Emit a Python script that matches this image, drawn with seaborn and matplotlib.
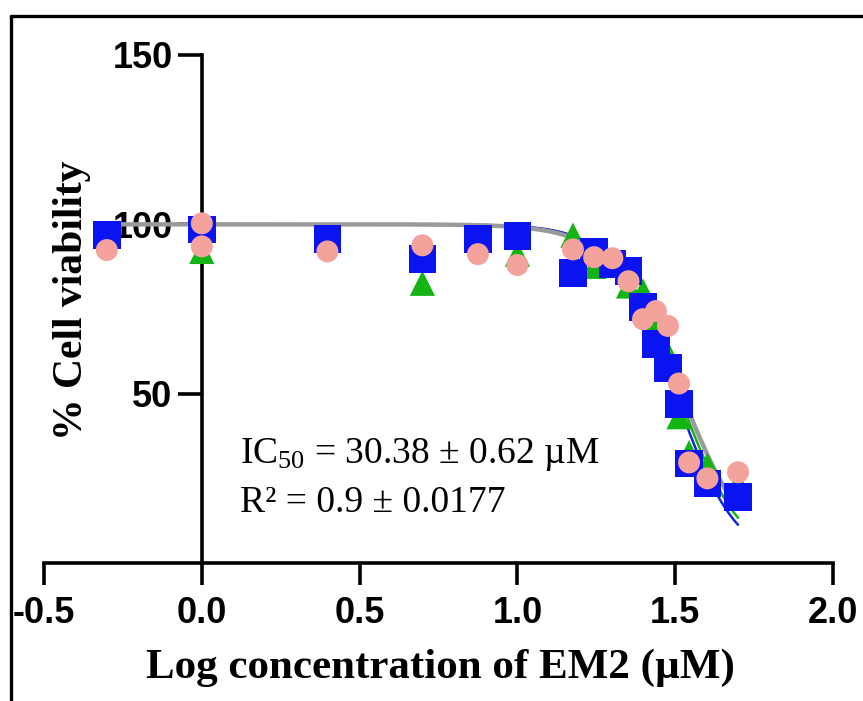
import numpy as np
import pandas as pd
import seaborn as sns
import matplotlib.pyplot as plt
from matplotlib.lines import Line2D

# log10 concentration of EM2 (uM)
log_conc = [-0.301, 0.0, 0.398, 0.699, 0.875, 1.0, 1.176, 1.243, 1.301,
            1.352, 1.398, 1.439, 1.477, 1.512, 1.544, 1.602, 1.699]

# % viability per replicate
rep_blue = [96.8, 98.5, 95.6, 89.7, 95.6, 96.5, 85.6, 92.0, 88.2,
            86.2, 75.6, 64.7, 57.6, 47.0, 29.4, 23.5, 19.4]
rep_green = [97.0, 92.0, 95.5, 82.6, 95.5, 91.2, 96.8, 87.6, 88.5,
             81.8, 80.3, 70.9, 61.8, 43.2, 32.6, 28.8, 23.5]
rep_pink = [92.4, 93.5, 92.0, 93.8, 91.2, 88.0, 92.6, 90.3, 90.0,
            83.2, 72.0, 74.4, 70.0, 53.0, 29.7, 25.0, 26.8]
# extra control point of the pink replicate at log c = 0
pink_extra_x = [0.0]
pink_extra_y = [100.3]

# 4PL fit parameters per replicate: top, bottom, logIC50, hill slope
fit_names = ["green", "blue", "pink"]
fit_top = [100.0, 100.0, 100.0]
fit_bottom = [0.0, 0.0, 0.0]
fit_logic50 = [1.51, 1.50, 1.52]
fit_hill = [4.3, 4.5, 4.0]

colors = {"blue": "#0A14F0", "green": "#14B414", "pink": "#F4A29C"}
curve_colors = {"pink": "#9A9A9A", "green": "#14B414", "blue": "#1428E0"}

pts = pd.concat([
    pd.DataFrame({"logc": log_conc, "viab": rep_green, "rep": "green"}),
    pd.DataFrame({"logc": log_conc, "viab": rep_blue, "rep": "blue"}),
    pd.DataFrame({"logc": log_conc + pink_extra_x,
                  "viab": rep_pink + pink_extra_y, "rep": "pink"}),
], ignore_index=True)

xs = np.linspace(min(log_conc), max(log_conc), 300)
curves = pd.concat([
    pd.DataFrame({"logc": xs,
                  "viab": b + (t - b) / (1 + 10 ** ((xs - l) * h)),
                  "rep": n})
    for t, b, l, h, n in zip(fit_top, fit_bottom, fit_logic50, fit_hill, fit_names)
], ignore_index=True)

sns.set_style("white")
plt.rcParams["font.family"] = ["Liberation Sans", "DejaVu Sans"]
plt.rcParams["mathtext.fontset"] = "custom"
plt.rcParams["mathtext.rm"] = "Liberation Serif"
plt.rcParams["mathtext.it"] = "Liberation Serif:italic"
plt.rcParams["text.color"] = "black"

fig = plt.figure(figsize=(8.63, 7.01), dpi=100)
ax = fig.add_axes([44 / 863, 1 - 563 / 701, (833 - 44) / 863, (563 - 55) / 701])

for name in fit_names:
    sub = curves[curves["rep"] == name]
    sns.lineplot(data=sub, x="logc", y="viab", ax=ax, color=curve_colors[name],
                 lw=3.2 if name == "pink" else 1.8, zorder=3, legend=False)

markers = {"green": "^", "blue": "s", "pink": "o"}
sizes = {"green": 330, "blue": 400, "pink": 250}
for name in ["green", "blue", "pink"]:
    sub = pts[pts["rep"] == name]
    sns.scatterplot(data=sub, x="logc", y="viab", ax=ax, marker=markers[name],
                    s=sizes[name], color=colors[name], edgecolor="none",
                    zorder=4, legend=False)

ax.set_xlim(-0.5, 2.0)
ax.set_ylim(0, 150)
ax.set_xticks([-0.5, 0.0, 0.5, 1.0, 1.5, 2.0])
ax.set_yticks([50, 100, 150])
ax.set_xticklabels(["-0.5", "0.0", "0.5", "1.0", "1.5", "2.0"])
ax.spines["left"].set_position(("data", 0))
ax.spines["bottom"].set_position(("data", 0))
ax.spines["right"].set_visible(False)
ax.spines["top"].set_visible(False)
for sp in ("left", "bottom"):
    ax.spines[sp].set_linewidth(2.6)
    ax.spines[sp].set_color("black")
ax.tick_params(axis="both", direction="out", length=16, width=2.6,
               labelsize=26, colors="black", labelcolor="black", pad=8,
               bottom=True, left=True)
ax.tick_params(axis="y", length=17, pad=4)
for lab in ax.get_xticklabels() + ax.get_yticklabels():
    lab.set_fontweight("bold")
ax.set_xlabel("")
ax.set_ylabel("")

fig.text(440 / 863, 1 - 668 / 701, "Log concentration of EM2 (\u00b5M)",
         family="Liberation Serif", weight="bold", fontsize=31, color="black",
         ha="center", va="center")
fig.text(72 / 863, 1 - 300 / 701, "% Cell viability",
         family="Liberation Serif", weight="bold", fontsize=30, color="black",
         rotation=90, ha="center", va="center")

ax.text(0.12, 29.5, "IC$_{50}$ = 30.38 $\\pm$ 0.62 \u00b5M",
        family="Liberation Serif", fontsize=27, color="black",
        ha="left", va="baseline")
ax.text(0.12, 15.0, "R\u00b2 = 0.9 \u00b1 0.0177",
        family="Liberation Serif", fontsize=27, color="black",
        ha="left", va="baseline")

# outer frame (cropped at right and bottom)
fig.add_artist(Line2D([11 / 863, 11 / 863], [0, 1 - 16 / 701], color="black",
                      lw=2.4, transform=fig.transFigure))
fig.add_artist(Line2D([11 / 863, 1], [1 - 16 / 701, 1 - 16 / 701], color="black",
                      lw=2.4, transform=fig.transFigure))

fig.savefig("out.png", dpi=100)
